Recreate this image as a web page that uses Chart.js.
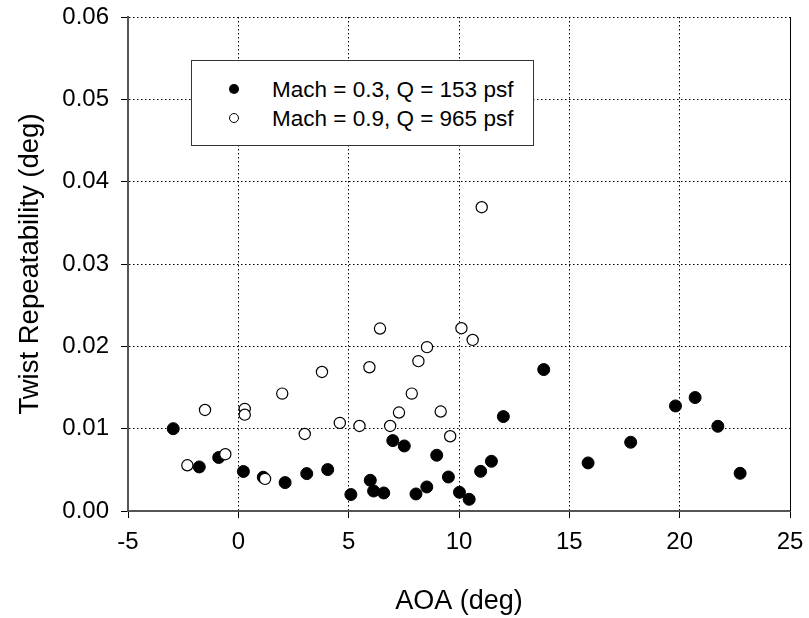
<!DOCTYPE html>
<html>
<head>
<meta charset="utf-8">
<script src="https://cdn.jsdelivr.net/npm/chart.js@4.4.1/dist/chart.umd.min.js"></script>
<style>
    html, body { margin: 0; padding: 0; background: #fff; }
    #wrap { position: relative; width: 809px; height: 618px; }
    #legendBox {
        position: absolute; left: 191px; top: 60px; width: 341px; height: 84px;
        border: 1px solid #333; background: #fff;
        font-family: "Liberation Sans", Arial, sans-serif; font-size: 22.5px; color: #000;
    }
    .row { position: absolute; left: 0; height: 29px; line-height: 29px; white-space: nowrap; }
    .dot { position: absolute; left: 37px; top: 9px; width: 10px; height: 10px; border-radius: 50%; box-sizing: border-box; }
    .lbl { position: absolute; left: 80px; top: 0; }
</style>
</head>
<body>
<div id="wrap">
    <canvas id="twistChart" width="809" height="618"></canvas>
    <div id="legendBox">
        <div class="row" style="top:14px"><span class="dot" style="background:#000"></span><span class="lbl">Mach = 0.3, Q = 153 psf</span></div>
        <div class="row" style="top:43px"><span class="dot" style="background:#fff;border:1px solid #000"></span><span class="lbl">Mach = 0.9, Q = 965 psf</span></div>
    </div>
</div>
<script>
// Mach 0.3, Q = 153 psf (punti pieni)
const aoaM03 = [-2.95, -1.77, -0.89, 0.23, 1.13, 2.12, 3.10, 4.05, 5.10, 5.98, 6.13, 6.59, 7.00, 7.52, 8.05,
                8.54, 8.99, 9.52, 10.02, 10.46, 10.98, 11.47, 12.01, 13.84, 15.85, 17.78, 19.81, 20.70, 21.73, 22.74];
const twistM03 = [0.0100, 0.00535, 0.0065, 0.0048, 0.0041, 0.00345, 0.00454, 0.00503, 0.0020, 0.00373, 0.00243, 0.00219, 0.00855, 0.0079, 0.00207,
                  0.00292, 0.00677, 0.00413, 0.00227, 0.00142, 0.00482, 0.00604, 0.01147, 0.01718, 0.00584, 0.00835, 0.01276, 0.01378, 0.01029, 0.00458];

// Mach 0.9, Q = 965 psf (punti vuoti)
const aoaM09 = [-2.31, -1.51, -0.59, 0.29, 0.29, 1.21, 1.99, 3.01, 3.79, 4.60, 5.49, 5.94, 6.42, 6.88, 7.28,
                7.86, 8.16, 8.55, 9.17, 9.60, 10.11, 10.62, 11.03];
const twistM09 = [0.00555, 0.01227, 0.0069, 0.0124, 0.0117, 0.0039, 0.01426, 0.00936, 0.01689, 0.0107, 0.01033, 0.01746, 0.02216, 0.01033, 0.01196,
                  0.01426, 0.0182, 0.0199, 0.01208, 0.00908, 0.0222, 0.02078, 0.0369];

const xTicks = [-5, 0, 5, 10, 15, 20, 25];
const yTicks = [0, 0.01, 0.02, 0.03, 0.04, 0.05, 0.06];

const FONT = '"Liberation Sans", Arial, sans-serif';

function toPoints(xs, ys) {
    return xs.map((x, i) => ({ x: x, y: ys[i] }));
}

// bordo destro pieno del riquadro
const rightBorder = {
    id: 'rightBorder',
    beforeDatasetsDraw(chart) {
        const a = chart.chartArea, ctx = chart.ctx;
        ctx.save();
        ctx.strokeStyle = '#000';
        ctx.lineWidth = 1;
        ctx.beginPath();
        ctx.moveTo(a.right + 0.5, a.top);
        ctx.lineTo(a.right + 0.5, a.bottom);
        ctx.stroke();
        ctx.restore();
    }
};

const ctx = document.getElementById('twistChart').getContext('2d');
new Chart(ctx, {
    type: 'scatter',
    data: {
        datasets: [
            {
                label: 'Mach = 0.3, Q = 153 psf',
                data: toPoints(aoaM03, twistM03),
                backgroundColor: '#000',
                borderColor: '#000',
                borderWidth: 1,
                pointRadius: 6,
                order: 1
            },
            {
                label: 'Mach = 0.9, Q = 965 psf',
                data: toPoints(aoaM09, twistM09),
                backgroundColor: '#fff',
                borderColor: '#000',
                borderWidth: 1.2,
                pointRadius: 5.6,
                order: 0
            }
        ]
    },
    options: {
        responsive: false,
        animation: false,
        layout: { padding: { left: 0, right: 19, top: 17, bottom: 0 } },
        plugins: {
            legend: { display: false },
            tooltip: { enabled: false }
        },
        scales: {
            x: {
                type: 'linear',
                min: -5, max: 25,
                afterBuildTicks: s => { s.ticks = xTicks.map(v => ({ value: v })); },
                afterFit: s => { s.height = 107; s.paddingLeft = 0; s.paddingRight = 0; },
                ticks: { color: '#000', font: { family: FONT, size: 24 }, padding: 10, maxRotation: 0 },
                grid: { color: '#000', lineWidth: 1, tickLength: 7, tickColor: '#000', tickBorderDash: [] },
                border: { display: true, color: '#555', width: 2, dash: [1.5, 2.5] },
                title: { display: true, text: 'AOA (deg)', color: '#000', font: { family: FONT, size: 27 }, padding: { top: 14, bottom: 0 } }
            },
            y: {
                type: 'linear',
                min: 0, max: 0.06,
                afterBuildTicks: s => { s.ticks = yTicks.map(v => ({ value: v })); },
                afterFit: s => { s.width = 128; s.paddingTop = 0; s.paddingBottom = 0; },
                ticks: { color: '#000', font: { family: FONT, size: 24 }, padding: 12, callback: v => v.toFixed(2) },
                grid: { color: '#000', lineWidth: 1, tickLength: 7, tickColor: '#000', tickBorderDash: [] },
                border: { display: true, color: '#555', width: 2, dash: [1.5, 2.5] },
                title: { display: true, text: 'Twist Repeatability (deg)', color: '#000', font: { family: FONT, size: 27.5 }, padding: { top: 14, bottom: 0 } }
            }
        }
    },
    plugins: [rightBorder]
});
</script>
</body>
</html>
